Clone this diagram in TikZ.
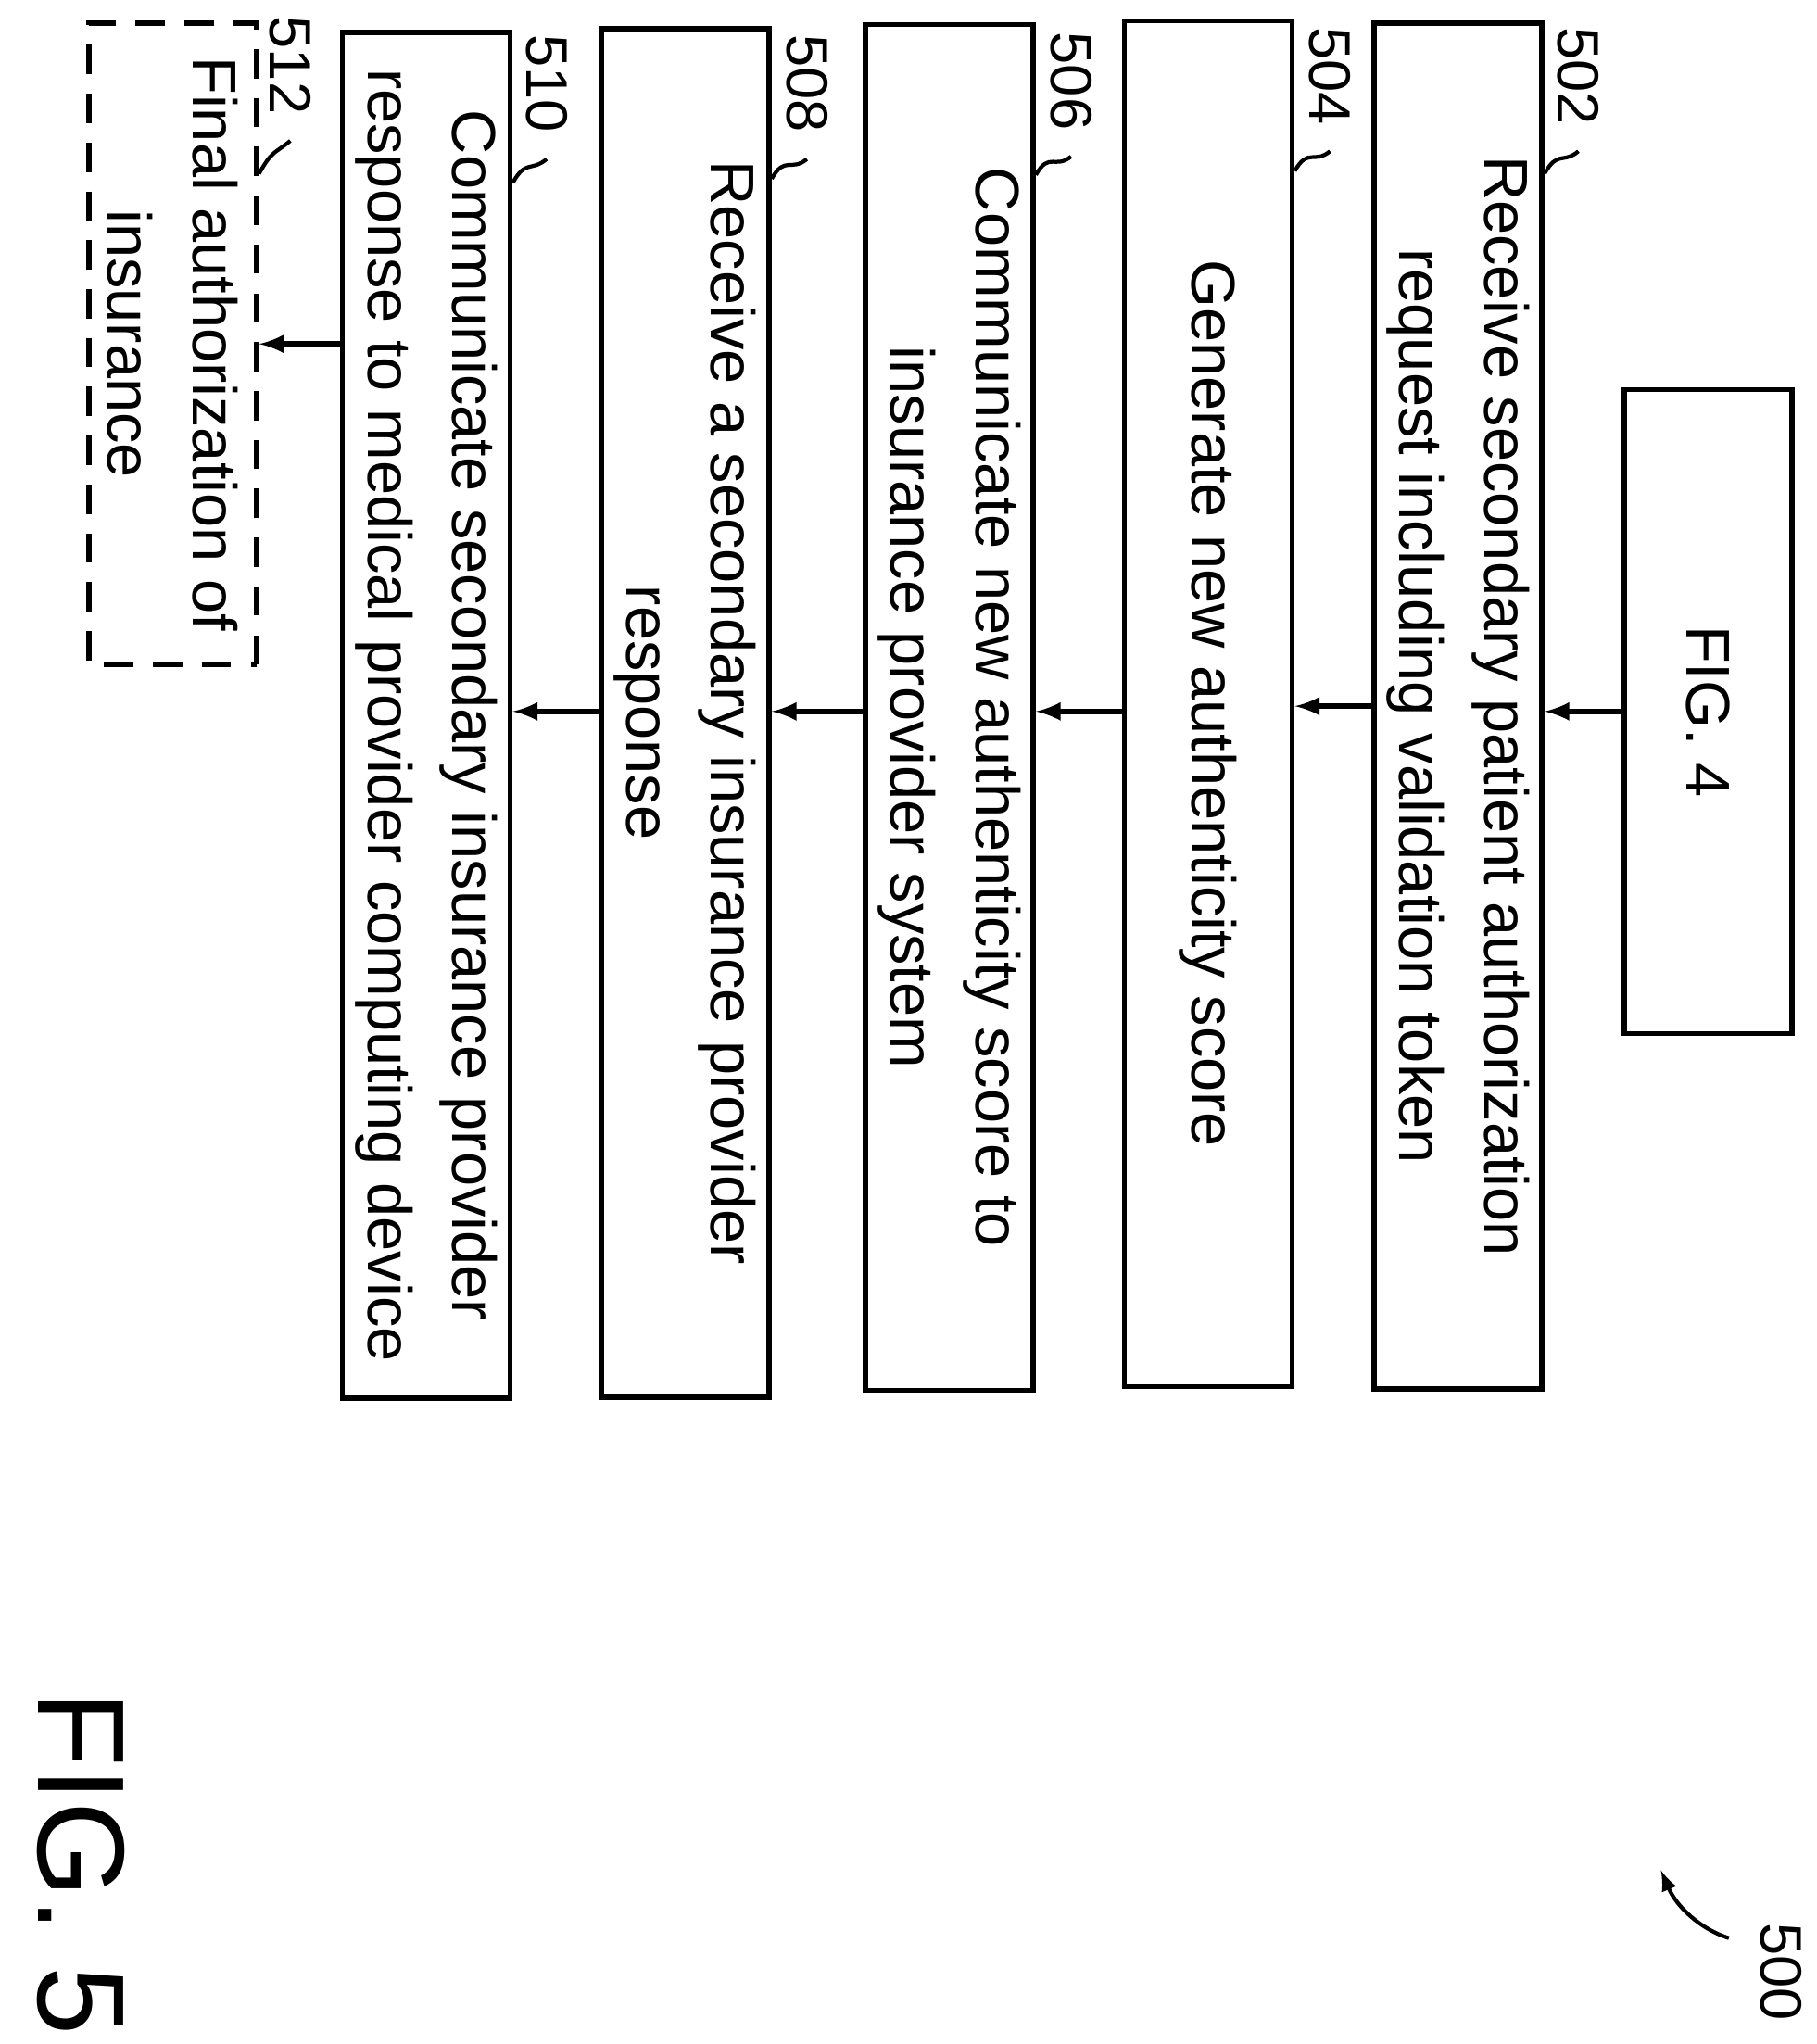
\documentclass[tikz,border=0pt]{standalone}
\usepackage{fontspec}
\setmainfont{Liberation Sans}
\usetikzlibrary{positioning}

\begin{document}
\begin{tikzpicture}[x=0.01412cm,y=-0.01412cm,>=latex,
                    stepbox/.style={draw, line width=1.6pt, rotate=-90, align=center,
                                 minimum height=1.81cm, font=\fontsize{19}{26}\selectfont},
                    tag/.style={rotate=-90, font=\fontsize{18}{20}\selectfont},
                    every path/.style={line width=1.6pt}]
\useasboundingbox (0,0) rectangle (1389,1563);
\node[stepbox, minimum width=6.95cm] (fig4) at (1306,544) {FIG. 4};
\node[stepbox, minimum width=14.74cm] (s502) at (1115,540) {Receive secondary patient authorization\\ request including validation token};
\node[stepbox, minimum width=14.74cm] (s504) at (924,538) {Generate new authenticity score};
\node[stepbox, minimum width=14.74cm] (s506) at (726,541) {Communicate new authenticity score to\\ insurance provider system};
\node[stepbox, minimum width=14.77cm] (s508) at (524,545) {Receive a secondary insurance provider\\ response};
\node[stepbox, minimum width=14.74cm] (s510) at (326,547) {Communicate secondary insurance provider\\ response to medical provider computing device};
\node[stepbox, dash pattern=on 9pt off 6pt, minimum width=6.92cm] (s512) at (132,263) {Final authorization of\\ insurance};
% labels
\node[tag] (l502) at (1207,58) {502};
\node[tag] (l504) at (1017,58) {504};
\node[tag] (l506) at (819,62) {506};
\node[tag] (l508) at (617,64) {508};
\node[tag] (l510) at (418,64) {510};
\node[tag] (l512) at (222,50) {512};
\foreach \l/\b in {l502/s502,l504/s504,l506/s506,l508/s508,l510/s510,l512/s512}
  \draw[line width=1.2pt] ([yshift=-4pt]\l.east) .. controls +(-12,10) and +(10,-18) .. ([yshift=-1.65cm]\b.north west);
\node[tag] (l500) at (1362,1508) {500};
\coordinate (c500) at (1270,1430);
\draw[->, line width=1.2pt] (1322,1482) .. controls (1300,1475) and (1282,1458) .. (c500);
\node[rotate=-90, font=\fontsize{38}{42}\selectfont] (fig5) at (62,1425) {FIG. 5};
% arrows
\draw[->] (fig4) -- (s502.north |- fig4);
\draw[->] (s502) -- (s504.north |- s502);
\draw[->] (s504.south |- fig4) -- (s506.north |- fig4);
\draw[->] (s506.south |- fig4) -- (s508.north |- fig4);
\draw[->] (s508.south |- fig4) -- (s510.north |- fig4);
\draw[->] (s510.south |- s512) -- (s512);
\end{tikzpicture}
\end{document}
